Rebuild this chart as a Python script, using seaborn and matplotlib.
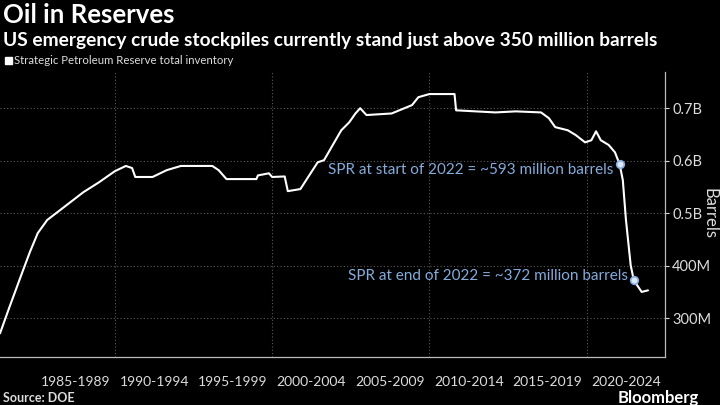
import pandas as pd
import matplotlib.pyplot as plt
import seaborn as sns

# SPR inventory, millions of barrels
years = [1982.7, 1983.3, 1984.1, 1984.6, 1985.1, 1985.7, 1986.7, 1988.0, 1989.0, 1990.0,
         1990.7, 1991.1, 1991.3, 1992.4, 1993.3, 1994.2, 1996.2, 1996.6, 1997.1, 1999.0,
         1999.1, 1999.8, 2000.0, 2000.8, 2001.0, 2001.8, 2002.9, 2003.3, 2004.4, 2004.9,
         2005.3, 2005.6, 2006.0, 2007.6, 2008.9, 2009.3, 2010.0, 2011.6, 2011.7, 2014.2,
         2015.5, 2017.1, 2017.6, 2018.0, 2018.8, 2019.3, 2019.9, 2020.3, 2020.6, 2020.9,
         2021.4, 2021.8, 2022.1, 2022.3, 2022.5, 2022.8, 2023.0, 2023.5, 2023.9]
inventory = [271, 321, 386, 426, 462, 487, 510, 540, 559, 580,
             590, 586, 569, 569, 582, 590, 590, 582, 565, 565,
             572, 576, 569, 570, 542, 546, 597, 601, 658, 673,
             690, 700, 687, 690, 706, 721, 727, 727, 696, 692,
             694, 692, 681, 664, 658, 649, 635, 639, 656, 639,
             630, 616, 593, 563, 487, 401, 372, 350, 353]

note_years = [2022.1, 2023.0]
note_values = [593, 372]
note_texts = ["SPR at start of 2022 = ~593 million barrels",
              "SPR at end of 2022 = ~372 million barrels"]

period_labels = ["1985-1989", "1990-1994", "1995-1999", "2000-2004",
                 "2005-2009", "2010-2014", "2015-2019", "2020-2024"]
period_edges = [1985, 1990, 1995, 2000, 2005, 2010, 2015, 2020, 2025]
ytick_vals = [300, 400, 500, 600, 700]
ytick_labels = ["300M", "400M", "0.5B", "0.6B", "0.7B"]

df = pd.DataFrame({"year": years, "inventory": inventory})

sns.set_style("dark")
plt.rcParams["font.family"] = ["Lato", "DejaVu Sans"]

fig = plt.figure(figsize=(7.2, 4.05), dpi=100, facecolor="black")
ax = fig.add_axes([0.0, 0.1185, 0.924, 0.7037])
ax.set_facecolor("black")

sns.lineplot(data=df, x="year", y="inventory", color="white", linewidth=1.5, ax=ax)

ax.set_xlim(1982.7, 2024.9)
ax.set_ylim(226, 769)

# gridlines
for v in ytick_vals:
    ax.axhline(v, color="#5a5a5a", linestyle=(0, (1, 2)), linewidth=0.8, zorder=0)
for d in [1990, 2000, 2010, 2020]:
    ax.axvline(d, color="#5a5a5a", linestyle=(0, (1, 2)), linewidth=0.8, zorder=0)
ax.grid(False)

# spines
for s in ["top", "left"]:
    ax.spines[s].set_visible(False)
for s in ["bottom", "right"]:
    ax.spines[s].set_visible(True)
    ax.spines[s].set_color("#bbbbbb")
    ax.spines[s].set_linewidth(0.9)

# right axis
ax.yaxis.tick_right()
ax.set_yticks(ytick_vals)
ax.set_yticklabels(ytick_labels)
ax.tick_params(axis="y", colors="#dddddd", labelsize=10.5, length=3, width=0.8,
               direction="out", pad=2, labelcolor="#dddddd")
ax.set_ylabel("")
fig.text(0.986, 0.472, "Barrels", color="#dddddd", fontsize=12, rotation=270,
         ha="center", va="center")

# bottom period axis
ax.set_xticks(period_edges)
ax.set_xticklabels([""] * len(period_edges))
ax.tick_params(axis="x", which="major", length=26, width=0.8, color="#888888", direction="out")
mids = [e + 2.5 for e in period_edges[:-1]]
ax.set_xticks(mids, minor=True)
ax.set_xticklabels(period_labels, minor=True)
ax.tick_params(axis="x", which="minor", length=0, pad=14, labelsize=10, labelcolor="#dddddd")
ax.set_xlabel("")

# annotations
ann_color = "#86acdc"
ax.scatter(note_years, note_values, s=30, color="#dde9f8", edgecolor=ann_color,
           linewidth=1.2, zorder=5)
ax.annotate(note_texts[0], xy=(note_years[0], note_values[0]), xytext=(note_years[0] - 0.4, 583),
            ha="right", va="center", color=ann_color, fontsize=11,
            arrowprops=dict(arrowstyle="-", color=ann_color, lw=0.8, shrinkA=0, shrinkB=3))
ax.annotate(note_texts[1], xy=(note_years[1], note_values[1]), xytext=(note_years[1] - 0.4, 380),
            ha="right", va="center", color=ann_color, fontsize=11,
            arrowprops=dict(arrowstyle="-", color=ann_color, lw=0.8, shrinkA=0, shrinkB=3))

# titles and legend
fig.text(0.004, 0.962, "Oil in Reserves", color="white", fontsize=18.5, fontweight="bold", va="center")
fig.text(0.004, 0.9, "US emergency crude stockpiles currently stand just above 350 million barrels",
         color="white", fontsize=13.8, fontweight="bold", va="center")
fig.patches.append(plt.Rectangle((0.007, 0.843), 0.009, 0.016, transform=fig.transFigure,
                                 color="white"))
fig.text(0.02, 0.851, "Strategic Petroleum Reserve total inventory", color="#dddddd",
         fontsize=8.2, va="center")

fig.text(0.004, 0.018, "Source: DOE", color="#dddddd", fontsize=9, fontweight="bold", va="center")
fig.text(0.97, 0.018, "Bloomberg", color="white", fontsize=12, fontweight="bold",
         va="center", ha="right")

fig.savefig("out.png", dpi=100, facecolor="black")
